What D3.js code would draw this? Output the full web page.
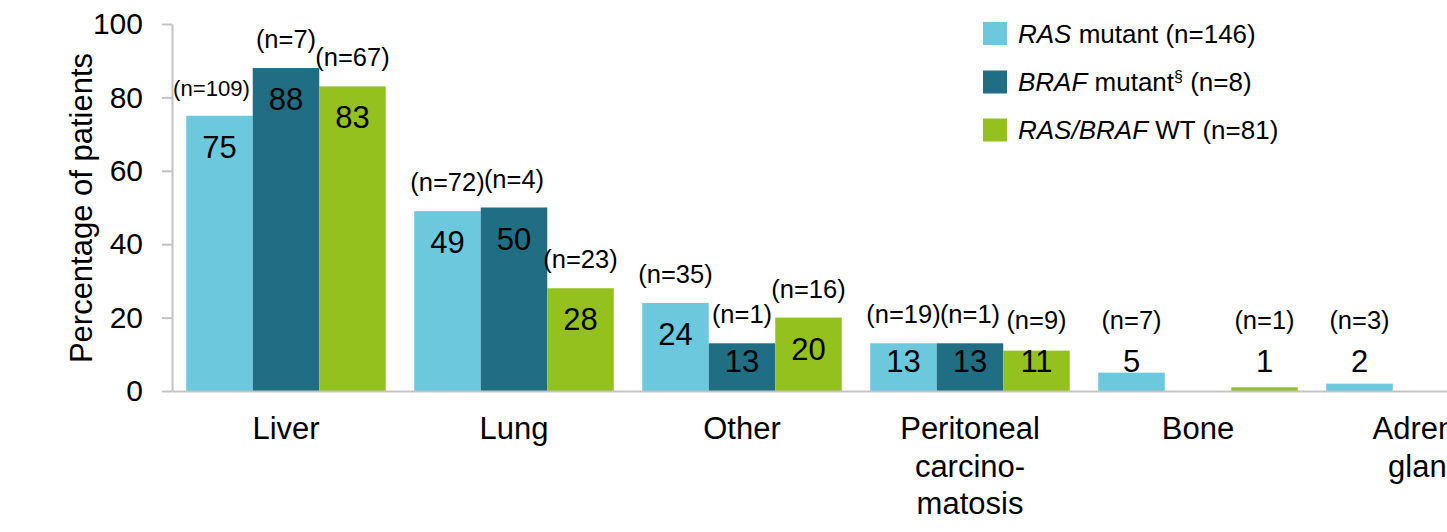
<!DOCTYPE html>
<meta charset="utf-8">
<style>

body {
  margin: 0;
  background: #fff;
}

svg {
  display: block;
  font-family: "Liberation Sans", Arial, sans-serif;
}

.axis path,
.axis line {
  stroke: #c4c4c4;
  stroke-width: 2;
}

.axis text {
  font-size: 30px;
  fill: #000;
}

.axis.x text {
  font-size: 31px;
}

.value {
  font-size: 31px;
  text-anchor: middle;
}

.nlabel {
  font-size: 25.5px;
  text-anchor: middle;
}

.legend text {
  font-size: 26px;
}

</style>
<body>
<script src="https://cdn.jsdelivr.net/npm/d3@7"></script>
<script>

// categories (each one is a list of label lines)
var categories = [["Liver"], ["Lung"], ["Other"], ["Peritoneal", "carcino-", "matosis"], ["Bone"], ["Adrenal", "gland"]];

// percentage of patients per series
var rasValues  = [75, 49, 24, 13, 5, 2];
var brafValues = [88, 50, 13, 13, 0, 0];
var wtValues   = [83, 28, 20, 11, 1, 0];

// patient counts shown above the bars
var rasN  = [109, 72, 35, 19, 7, 3];
var brafN = [7, 4, 1, 1, null, null];
var wtN   = [67, 23, 16, 9, 1, null];

var yTicks = [0, 20, 40, 60, 80, 100];

var legendLabels = [
  [{t: "RAS", i: true}, {t: " mutant (n=146)"}],
  [{t: "BRAF", i: true}, {t: " mutant"}, {t: "§", sup: true}, {t: " (n=8)"}],
  [{t: "RAS/BRAF", i: true}, {t: " WT (n=81)"}]
];

var colors = ["#6cc8dd", "#1f6e83", "#95c11f"];

var series = [
  {values: rasValues, n: rasN},
  {values: brafValues, n: brafN},
  {values: wtValues, n: wtN}
];

var width = 1447,
    height = 532;

var svg = d3.select("body").append("svg")
    .attr("width", width)
    .attr("height", height);

var x0 = d3.scaleBand()
    .domain(d3.range(categories.length))
    .range([172, 172 + 228 * categories.length])
    .paddingInner(0.125)
    .paddingOuter(0.0625);

var x1 = d3.scaleBand()
    .domain(d3.range(series.length))
    .range([0, x0.bandwidth()]);

var y = d3.scaleLinear()
    .domain([0, 100])
    .range([391, 24]);

// y axis
svg.append("g")
    .attr("class", "axis y")
    .attr("transform", "translate(172,0)")
    .call(d3.axisLeft(y).tickValues(yTicks).tickSize(10).tickSizeOuter(0).tickPadding(19));

svg.append("text")
    .attr("transform", "translate(92," + 208 + ") rotate(-90)")
    .attr("text-anchor", "middle")
    .style("font-size", "31px")
    .text("Percentage of patients");

// bars
var groups = svg.selectAll(".group")
    .data(categories)
  .enter().append("g")
    .attr("class", "group")
    .attr("transform", function(d, i) { return "translate(" + x0(i) + ",0)"; });

var cells = groups.selectAll(".cell")
    .data(function(d, i) {
      return series.map(function(s, j) { return {s: j, v: s.values[i], n: s.n[i]}; });
    })
  .enter().append("g")
    .attr("class", "cell");

cells.filter(function(d) { return d.v > 0; })
  .append("rect")
    .attr("x", function(d) { return x1(d.s); })
    .attr("y", function(d) { return y(d.v); })
    .attr("width", x1.bandwidth())
    .attr("height", function(d) { return y(0) - y(d.v); })
    .attr("fill", function(d) { return colors[d.s]; });

cells.filter(function(d) { return d.v > 0; })
  .append("text")
    .attr("class", "value")
    .attr("x", function(d) { return x1(d.s) + x1.bandwidth() / 2; })
    .attr("y", function(d) { return Math.min(y(d.v) + 42, y(0) - 19); })
    .text(function(d) { return d.v; });

cells.filter(function(d) { return d.n != null; })
  .append("text")
    .attr("class", "nlabel")
    .attr("x", function(d) { return x1(d.s) + x1.bandwidth() / 2; })
    .attr("y", function(d) { return Math.min(y(d.v) - 20, 329); })
    .text(function(d) { return "(n=" + d.n + ")"; })
    .each(function() {
      // squeeze long labels like Excel does
      var w = this.getComputedTextLength();
      if (w > 80) {
        d3.select(this)
            .style("font-size", (25.5 * 77 / w) + "px")
            .attr("x", +d3.select(this).attr("x") - 8);
      }
    });

// x axis
var xAxis = svg.append("g")
    .attr("class", "axis x")
    .attr("transform", "translate(0," + y(0) + ")")
    .call(d3.axisBottom(x0).tickSize(0).tickSizeOuter(0));

xAxis.selectAll(".tick text")
    .attr("y", 48)
    .attr("dy", null)
    .text(null)
  .selectAll("tspan")
    .data(function(i) { return categories[i]; })
  .enter().append("tspan")
    .attr("x", 0)
    .attr("dy", function(d, j) { return j ? 37.5 : 0; })
    .text(function(d) { return d; });

// legend
var legendY = [33.5, 82, 130];

var legend = svg.selectAll(".legend")
    .data(legendLabels)
  .enter().append("g")
    .attr("class", "legend")
    .attr("transform", function(d, i) { return "translate(983," + legendY[i] + ")"; });

legend.append("rect")
    .attr("y", -11.5)
    .attr("width", 24)
    .attr("height", 23)
    .attr("fill", function(d, i) { return colors[i]; });

legend.append("text")
    .attr("x", 35)
    .attr("y", 9)
  .selectAll("tspan")
    .data(function(d) { return d; })
  .enter().append("tspan")
    .style("font-style", function(d) { return d.i ? "italic" : null; })
    .style("font-size", function(d) { return d.sup ? "16px" : null; })
    .attr("dy", function(d, j, nodes) {
      if (d.sup) return -9;
      var prev = nodes[j - 1] && d3.select(nodes[j - 1]).datum();
      return prev && prev.sup ? 9 : 0;
    })
    .text(function(d) { return d.t; });

</script>
